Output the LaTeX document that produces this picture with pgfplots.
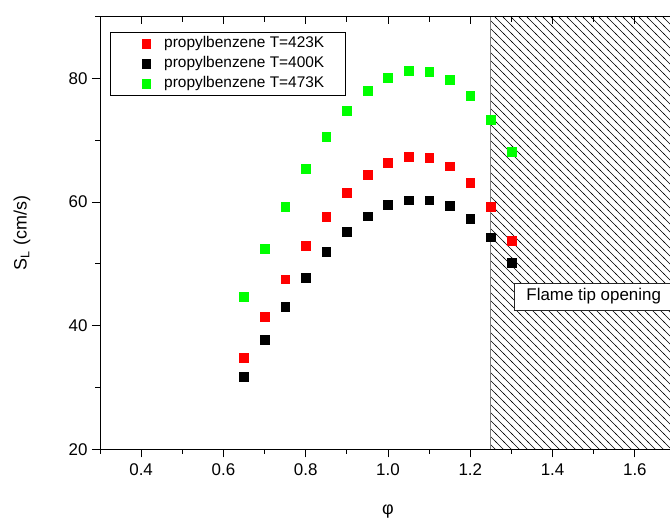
\documentclass[border=0pt]{standalone}
\usepackage{fontspec}
\setmainfont{Liberation Sans}
\usepackage{pgfplots}
\pgfplotsset{compat=1.18}
\usetikzlibrary{patterns}
\definecolor{mygreen}{RGB}{0,255,0}
\definecolor{myred}{RGB}{255,0,0}
\definecolor{edgegray}{RGB}{128,128,128}

\pgfdeclarepatternformonly{myhatch}{\pgfqpoint{-1bp}{-1bp}}{\pgfqpoint{9bp}{9bp}}{\pgfqpoint{8bp}{8bp}}{%
  \pgfsetlinewidth{0.6bp}%
  \pgfpathmoveto{\pgfqpoint{-1bp}{9bp}}%
  \pgfpathlineto{\pgfqpoint{9bp}{-1bp}}%
  \pgfusepath{stroke}%
}

\pgfplotstableread{
phi   S
0.65  34.8
0.70  41.4
0.75  47.5
0.80  52.9
0.85  57.6
0.90  61.5
0.95  64.4
1.00  66.4
1.05  67.3
1.10  67.2
1.15  65.8
1.20  63.1
1.25  59.2
1.30  53.7
}\redT
\pgfplotstableread{
phi   S
0.65  31.7
0.70  37.7
0.75  43.0
0.80  47.8
0.85  51.9
0.90  55.2
0.95  57.7
1.00  59.5
1.05  60.3
1.10  60.3
1.15  59.35
1.20  57.3
1.25  54.3
1.30  50.2
}\blackT
\pgfplotstableread{
phi   S
0.65  44.7
0.70  52.4
0.75  59.3
0.80  65.4
0.85  70.5
0.90  74.7
0.95  78.0
1.00  80.1
1.05  81.2
1.10  81.1
1.15  79.8
1.20  77.2
1.25  73.3
1.30  68.1
}\greenT

\begin{document}
\begin{tikzpicture}
\begin{axis}[
  scale only axis, width=576bp, height=432.8bp,
  xmin=0.3, xmax=1.7, ymin=20, ymax=90,
  axis on top,
  xtick={0.4,0.6,0.8,1.0,1.2,1.4,1.6},
  ytick={20,40,60,80},
  minor xtick={0.3,0.5,0.7,0.9,1.1,1.3,1.5,1.7},
  minor ytick={30,50,70,90},
  xtick pos=left, ytick pos=left,
  tick align=outside,
  major tick length=8bp, minor tick length=4.5bp,
  axis line style={line width=0.9bp},
  tick style={black, line width=0.9bp},
  major tick style={black, line width=0.9bp},
  /pgf/number format/assume math mode=true,
  xticklabel style={font=\fontsize{17}{20}\selectfont,
    /pgf/number format/fixed, /pgf/number format/fixed zerofill,
    /pgf/number format/precision=1, yshift=-3bp},
  yticklabel style={font=\fontsize{17}{20}\selectfont, xshift=-1bp},
  xlabel={φ},
  ylabel={S\textsubscript{L} (cm/s)},
  every axis x label/.style={at={(axis description cs:0.5,-0.1449)}, anchor=center, font=\fontsize{18}{20}\selectfont},
  every axis y label/.style={at={(axis description cs:-0.1354,0.5)}, anchor=center, rotate=90, font=\fontsize{18}{20}\selectfont},
  legend cell align=left,
  legend image code/.code={\path[draw=none,fill=none] (-15bp,0) -- (0bp,0); \draw[#1] plot coordinates {(0bp,0bp)};},
  legend style={at={(0.01736,0.9642)}, anchor=north west, draw=black, line width=0.8bp,
    fill=white, inner xsep=21bp, inner ysep=3.8bp, row sep=5bp, column sep=13.4bp,
    font=\fontsize{15.5}{18}\selectfont,
    nodes={inner sep=0pt, text height=11.5bp, text depth=3.5bp}},
]
\addplot[only marks, mark=square*, mark size=4.4bp, color=myred] table[x=phi,y=S] {\redT};
\addlegendentry{propylbenzene T=423K}
\addplot[only marks, mark=square*, mark size=4.4bp, color=black] table[x=phi,y=S] {\blackT};
\addlegendentry{propylbenzene T=400K}
\addplot[only marks, mark=square*, mark size=4.4bp, color=mygreen] table[x=phi,y=S] {\greenT};
\addlegendentry{propylbenzene T=473K}
\addplot[forget plot, draw=none, pattern=myhatch, pattern color=black]
  coordinates {(1.25,20) (1.25,90) (1.7,90) (1.7,20) (1.25,20)};
\addplot[forget plot, color=edgegray, line width=0.9bp] coordinates {(1.25,20) (1.25,90)};
\node[draw=black!85, fill=white, line width=0.8bp, anchor=west, inner xsep=11.7bp,
  minimum height=27.3bp, font=\fontsize{17}{20}\selectfont]
  at (axis cs:1.307,44.7) {Flame tip opening};
\end{axis}
\begin{axis}[
  scale only axis, width=576bp, height=432.8bp,
  xmin=0.3, xmax=1.7, ymin=20, ymax=90,
  axis x line*=top, axis y line=none,
  xtick={0.4,0.6,0.8,1.0,1.2,1.4,1.6},
  minor xtick={0.3,0.5,0.7,0.9,1.1,1.3,1.5,1.7},
  xticklabels={},
  tick align=inside,
  major tick length=8bp, minor tick length=6bp,
  axis line style={line width=0.9bp},
  tick style={black, line width=0.9bp},
  major tick style={black, line width=0.9bp},
]
\addplot[draw=none] coordinates {(0.5,50)};
\end{axis}
\pgfresetboundingbox
\path[use as bounding box] ([xshift=-100bp,yshift=-72.7bp]current axis.south west)
  rectangle ([xshift=-6bp,yshift=16.5bp]current axis.north east);
\end{tikzpicture}
\end{document}
